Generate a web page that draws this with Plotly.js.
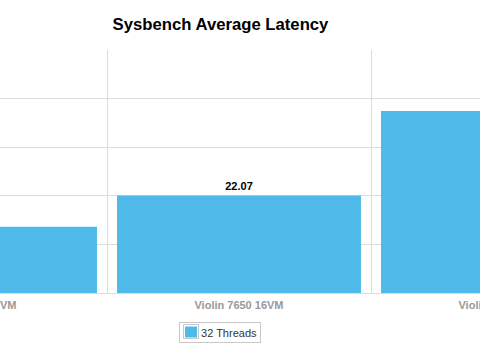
<!DOCTYPE html>
<html>
<head>
<meta charset="utf-8">
<script src="https://cdn.plot.ly/plotly-3.0.1.min.js"></script>
<style>
html,body{margin:0;padding:0;background:#fff;overflow:hidden;width:480px;height:351px;position:relative;}
#chart{position:absolute;left:-157px;top:0;width:792px;height:351px;}
</style>
</head>
<body>
<div id="chart"></div>
<script>
var categories = ["Violin 7650 8VM", "Violin 7650 16VM", "Violin 7650 32VM"];
var latency32 = [15.0, 22.07, 41.2];
var seriesName = "32 Threads";
var barColor = "#4FBAEA";

// layout helpers (window pixel -> paper coords); chart div is offset 157px left
var W = 792, OFF = 157, PT = 50, PB = 293;
function px(wx){ return (wx + OFF) / W; }
function py(wy){ return (PB - wy) / (PB - PT); }

var trace = {
  type: "bar",
  x: categories,
  y: latency32,
  name: seriesName,
  marker: {color: barColor, line: {width: 0}},
  text: latency32.map(function(v){ return v.toFixed(2); }),
  textposition: "outside",
  textfont: {family: "Liberation Sans, Arial, sans-serif", size: 11, color: "#000", weight: "bold"},
  cliponaxis: false,
  hoverinfo: "none",
  showlegend: false
};

var font = "Liberation Sans, Arial, sans-serif";

var layout = {
  width: W, height: 351,
  margin: {l: 0, r: 0, t: PT, b: 351 - PB, pad: 0},
  paper_bgcolor: "#fff", plot_bgcolor: "#fff",
  showlegend: false,
  bargap: 0.076,
  title: {
    text: "Sysbench Average Latency",
    font: {family: font, size: 16.7, color: "#000", weight: "bold"},
    x: px(220.5), xref: "paper", xanchor: "center",
    y: 1 - 24/351, yref: "container", yanchor: "middle"
  },
  xaxis: {
    type: "category",
    range: [-0.5, 2.5],
    tickson: "boundaries",
    showgrid: true, gridcolor: "#dcdcdc", gridwidth: 1,
    ticks: "", showline: false, zeroline: false,
    ticklabelstandoff: 4,
    tickfont: {family: font, size: 11, color: "#999", weight: "bold"},
    fixedrange: true
  },
  yaxis: {
    range: [0, 55], dtick: 11, tick0: 0,
    showgrid: true, gridcolor: "#dcdcdc", gridwidth: 1,
    zeroline: true, zerolinecolor: "#dcdcdc", zerolinewidth: 1,
    showticklabels: false, ticks: "", showline: false,
    fixedrange: true
  },
  shapes: [
    {type: "rect", xref: "paper", yref: "paper",
     x0: px(183.5), x1: px(198.5), y0: py(338.5), y1: py(324.5),
     line: {color: "#c8c8c8", width: 1}, fillcolor: "#fff"},
    {type: "rect", xref: "paper", yref: "paper",
     x0: px(185), x1: px(197), y0: py(337.5), y1: py(326.5),
     line: {width: 0}, fillcolor: barColor}
  ],
  annotations: [
    {text: seriesName, xref: "paper", yref: "paper",
     x: px(179), y: py(322), xanchor: "left", yanchor: "top",
     showarrow: false, align: "right",
     width: 74, height: 13, borderpad: 3,
     bordercolor: "#c8c8c8", borderwidth: 1,
     font: {family: font, size: 11, color: "#333"}}
  ]
};

Plotly.newPlot("chart", [trace], layout, {displayModeBar: false, staticPlot: true});
</script>
</body>
</html>
